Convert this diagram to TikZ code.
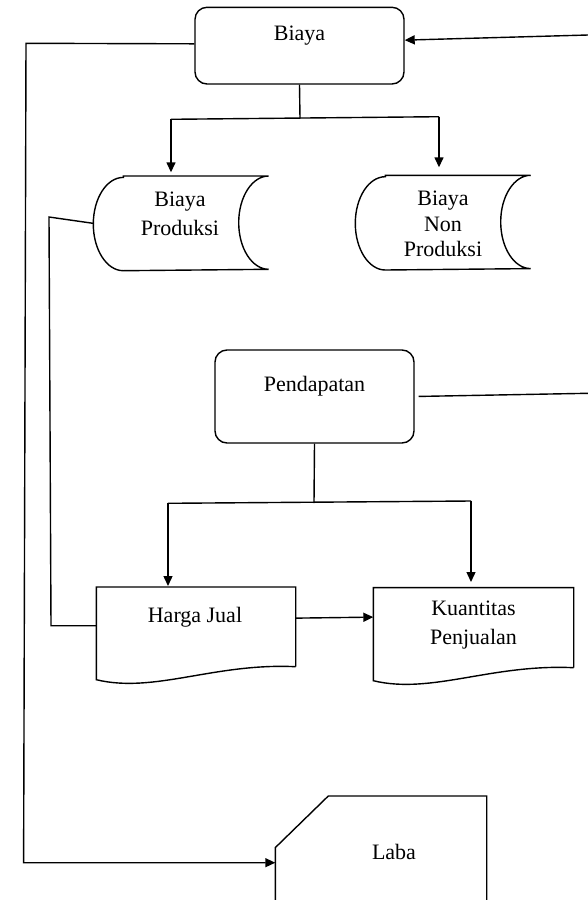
\documentclass[tikz,border=0pt]{standalone}
\usepackage{fontspec}
\setmainfont{Liberation Serif}
\usetikzlibrary{arrows.meta,calc}
\begin{document}
\begin{tikzpicture}[x=1pt,y=-1pt,
  line width=1.4pt,
  arr/.style={-{Triangle[length=10pt,width=9pt]}},
  area/.style={draw=none,inner sep=0pt,rectangle},
  txt/.style={font=\fontsize{22}{29}\selectfont,align=center,inner sep=0pt},
  rbox/.style={draw,rounded corners=12pt,inner sep=0pt}]
\useasboundingbox (0,0) rectangle (588,900);
\clip (0,0) rectangle (588,900);

% nodes
\node[rbox,minimum width=209pt,minimum height=76.7pt,
  label={[txt,yshift=9.7pt]center:Biaya}] (biaya) at (299.5,45.65) {};
\node[area,minimum width=174pt,minimum height=93.3pt,
  label={[txt,yshift=9.55pt,xshift=-1pt]center:{Biaya\\Produksi}}] (bp) at (181,223.35) {};
\node[area,minimum width=174pt,minimum height=93.3pt,
  label={[txt,font=\fontsize{22}{25.5}\selectfont,yshift=-1.65pt]center:{Biaya\\Non\\Produksi}}] (bnp) at (443,222.65) {};
\node[rbox,minimum width=199pt,minimum height=93pt,
  label={[txt,yshift=9.8pt]center:Pendapatan}] (pend) at (314.5,396.5) {};
\node[area,minimum width=198pt,minimum height=78.3pt,
  label={[txt,yshift=9.85pt,xshift=-1pt]center:Harga Jual}] (hj) at (196,626.85) {};
\node[area,minimum width=199pt,minimum height=78.7pt,
  label={[txt,yshift=3pt]center:{Kuantitas\\Penjualan}}] (kp) at (473.5,627.65) {};
\node[area,minimum width=210pt,minimum height=108.3pt,
  label={[txt,xshift=13pt,yshift=-1.15pt]center:Laba}] (laba) at (381,850.85) {};

% stored-data shapes
\draw ($(bp.north west)+(30,0)$) -- (bp.north east)
  arc[start angle=90,end angle=270,x radius=30pt,y radius=46.65pt]
  -- ($(bp.south west)+(30,0)$)
  arc[start angle=270,end angle=90,x radius=30pt,y radius=46.65pt] -- cycle;
\draw ($(bnp.north west)+(30,0)$) -- (bnp.north east)
  arc[start angle=90,end angle=270,x radius=30pt,y radius=46.65pt]
  -- ($(bnp.south west)+(30,0)$)
  arc[start angle=270,end angle=90,x radius=30pt,y radius=46.65pt] -- cycle;

% document shapes
\draw (hj.south east) -- (hj.north east) -- (hj.north west) -- ($(hj.south west)+(0,13)$)
  .. controls ($(hj.south west)+(58,27)$) and ($(hj.south west)+(118,-4)$) .. (hj.south east);
\draw (kp.south east) -- (kp.north east) -- (kp.north west) -- ($(kp.south west)+(0,13)$)
  .. controls ($(kp.south west)+(58,27)$) and ($(kp.south west)+(118,-4)$) .. (kp.south east);

% off-page connector shape (Laba)
\draw (laba.south west) -- ($(laba.north west)+(0,51.6)$) -- ($(laba.north west)+(53,0)$)
  -- (laba.north east) -- (laba.south east);

% connectors
\coordinate (rin) at (588,35);
\draw[arr] (rin) -- (biaya.3);

\coordinate (ol1) at (26,43.3);
\coordinate (ol2) at (23.6,862.7);
\draw[arr] (biaya.179) -- (ol1) -- (ol2) -- (laba.west |- ol2);

\coordinate (j1) at (300,118.3);
\coordinate (h1l) at (171,119.3);
\coordinate (h1r) at (439,116.7);
\draw (biaya.south) -- (j1);
\draw (h1l) -- (h1r);
\draw[arr,shorten >=3.7pt] (h1l) -- (h1l |- bp.north);
\draw[arr,shorten >=8pt] (h1r) -- (h1r |- bnp.north);

\coordinate (l1) at (49,217);
\coordinate (l2) at (51,625.7);
\draw (bp.west) -- (l1) -- (l2) -- (hj.west |- l2);

\coordinate (rout) at (588,393.3);
\draw[shorten <=4pt] (pend.east) -- (rout);

\coordinate (j2) at (314,503);
\coordinate (h2l) at (168,503.3);
\coordinate (h2r) at (471,501);
\draw (pend.south) -- (j2);
\draw (h2l) -- (h2r);
\draw[arr,shorten >=1pt] (h2l) -- (h2l |- hj.north);
\draw[arr,shorten >=5.6pt] (h2r) -- (h2r |- kp.north);
\draw[arr] (hj.5) -- (kp.174);
\end{tikzpicture}
\end{document}
